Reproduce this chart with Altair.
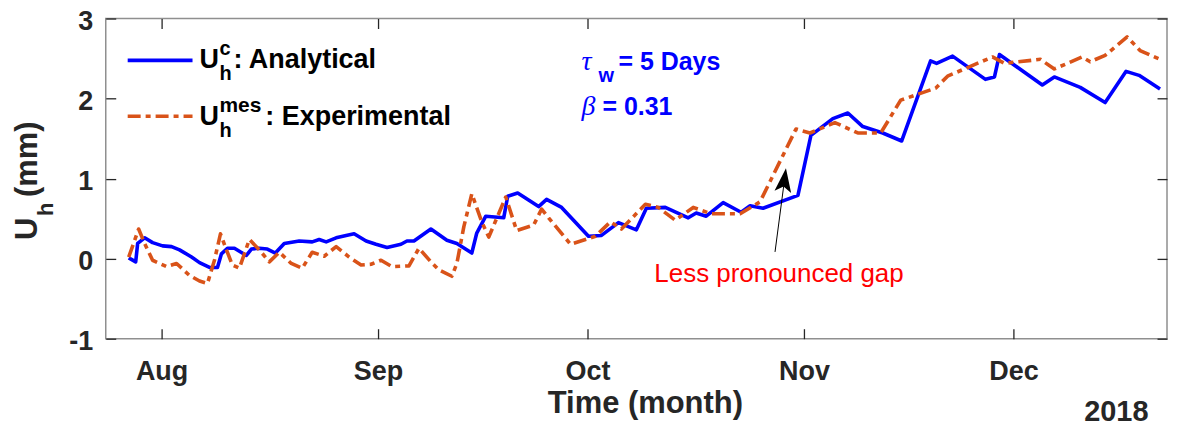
import altair as alt
import pandas as pd

# ---- data (days after 2018-07-24, value in mm) ----
blue_day = [3.29, 4.29, 4.57, 5.57, 6.71, 8.14, 9.43, 10.57, 12.29, 13.43, 14.86, 16.0,
            16.57, 17.43, 18.43, 20.14, 20.86, 22.0, 23.14, 24.29, 25.57, 27.71, 29.57,
            30.57, 31.57, 33.0, 34.43, 35.57, 37.29, 38.71, 40.29, 42.29, 43.14, 44.14,
            46.57, 48.86, 50.29, 52.43, 53.14, 54.43, 57.0, 57.57, 59.0, 62.0, 63.14,
            65.29, 69.14, 71.0, 73.43, 76.0, 77.43, 80.14, 83.43, 84.57, 86.0, 88.43,
            91.0, 92.29, 94.14, 99.14, 101.0, 104.14, 106.29, 108.43, 111.29, 114.0,
            118.14, 119.0, 121.29, 126.0, 127.29, 128.0, 134.14, 135.86, 139.57, 143.14,
            146.14, 148.0, 151.0]
blue_val = [0.01, -0.04, 0.19, 0.26, 0.20, 0.16, 0.15, 0.11, 0.02, -0.05, -0.11, -0.11,
            0.06, 0.13, 0.13, 0.04, 0.12, 0.13, 0.12, 0.07, 0.19, 0.22, 0.21,
            0.24, 0.21, 0.26, 0.29, 0.31, 0.22, 0.18, 0.14, 0.18, 0.22, 0.22,
            0.37, 0.23, 0.19, 0.07, 0.32, 0.53, 0.51, 0.78, 0.82, 0.65, 0.74,
            0.64, 0.28, 0.29, 0.45, 0.36, 0.63, 0.64, 0.51, 0.57, 0.53, 0.70,
            0.58, 0.66, 0.63, 0.79, 1.54, 1.75, 1.82, 1.65, 1.57, 1.47,
            2.47, 2.44, 2.53, 2.24, 2.27, 2.55, 2.17, 2.27, 2.14, 1.95,
            2.34, 2.29, 2.12]

orange_day = [3.29, 4.71, 5.57, 6.71, 8.71, 10.14, 12.0, 13.43, 14.57, 15.57, 16.43, 17.29,
              18.14, 19.14, 20.57, 22.0, 23.43, 24.86, 26.57, 28.14, 29.57, 31.29, 33.0,
              34.86, 36.57, 38.0, 39.43, 41.0, 43.43, 44.86, 46.57, 47.71, 49.57, 50.29,
              51.29, 52.43, 53.86, 54.86, 57.29, 58.86, 61.29, 62.43, 63.43, 66.57, 70.14,
              72.29, 73.86, 77.29, 79.14, 81.57, 84.14, 86.71, 90.86, 93.71, 98.86, 100.86,
              104.43, 107.71, 111.0, 113.86, 118.86, 120.57, 127.0, 128.71, 133.86, 135.86,
              139.86, 141.0, 143.14, 146.29, 148.14, 151.0]
orange_val = [0.02, 0.37, 0.19, -0.02, -0.10, -0.06, -0.21, -0.28, -0.31, -0.02, 0.31, 0.11,
              -0.08, -0.12, 0.24, 0.11, -0.04, 0.08, -0.06, -0.12, 0.08, 0.03, 0.15,
              0.02, -0.08, -0.07, -0.02, -0.10, -0.09, 0.13, -0.04, -0.14, -0.22, -0.06,
              0.40, 0.81, 0.46, 0.27, 0.77, 0.35, 0.42, 0.62, 0.51, 0.18, 0.28,
              0.46, 0.37, 0.68, 0.64, 0.48, 0.64, 0.56, 0.56, 0.71, 1.62, 1.57,
              1.70, 1.57, 1.57, 1.98, 2.13, 2.28, 2.52, 2.44, 2.49, 2.37,
              2.52, 2.46, 2.54, 2.77, 2.60, 2.49]

y_ticks = [-1, 0, 1, 2, 3]
month_ticks = [8, 9, 10, 11, 12]

START = pd.Timestamp("2018-07-24")
blue_df = pd.DataFrame({"date": START + pd.to_timedelta(blue_day, unit="D"), "val": blue_val})
orange_df = pd.DataFrame({"date": START + pd.to_timedelta(orange_day, unit="D"), "val": orange_val})

BLUE = "#0000FF"
ORANGE = "#D95319"
AX = "#262626"
SANS = "Liberation Sans"
SERIF = "Liberation Serif"
DASH = [13, 5, 5, 5]
LW = 3.6

W, H = 1064, 321

x_scale = alt.Scale(domain=[alt.DateTime(year=2018, month=7, date=24),
                            alt.DateTime(year=2018, month=12, date=23)])
y_scale = alt.Scale(domain=[-1, 3], nice=False)
x_vals = [alt.DateTime(year=2018, month=m, date=1) for m in month_ticks]

common_axis = dict(domain=False, grid=False, tickColor=AX, tickWidth=1.3, tickSize=10,
                   offset=-10, title=None)

x_bottom = alt.Axis(values=x_vals, format="%b", labelFont=SANS, labelFontWeight="bold",
                    labelFontSize=27, labelColor=AX, labelPadding=20, **common_axis)
x_top = alt.Axis(values=x_vals, orient="top", labels=False, **common_axis)
y_left = alt.Axis(values=y_ticks, labelFont=SANS, labelFontWeight="bold", labelFontSize=27,
                  labelColor=AX, labelPadding=13, labelOffset=3, labelExpr="'' + datum.value",
                  **common_axis)
y_right = alt.Axis(values=y_ticks, orient="right", labels=False, **common_axis)

blue_line = alt.Chart(blue_df).mark_line(color=BLUE, strokeWidth=LW, strokeJoin="round").encode(
    x=alt.X("date:T", scale=x_scale, axis=x_bottom),
    y=alt.Y("val:Q", scale=y_scale, axis=y_left),
)
orange_line = alt.Chart(orange_df).mark_line(
    color=ORANGE, strokeWidth=LW, strokeDash=DASH, strokeJoin="round"
).encode(
    x=alt.X("date:T", scale=x_scale, axis=x_top),
    y=alt.Y("val:Q", scale=y_scale, axis=y_right),
)

one = pd.DataFrame({"k": [0]})
layers = [blue_line, orange_line]

# legend samples
layers.append(alt.Chart(one).mark_rule(color=BLUE, strokeWidth=LW).encode(
    x=alt.value(22), x2=alt.value(87), y=alt.value(42)))
layers.append(alt.Chart(one).mark_rule(color=ORANGE, strokeWidth=LW, strokeDash=DASH).encode(
    x=alt.value(22), x2=alt.value(87), y=alt.value(98)))

# arrow of the annotation
layers.append(alt.Chart(one).mark_rule(color="black", strokeWidth=1).encode(
    x=alt.value(671), y=alt.value(234), x2=alt.value(681), y2=alt.value(158)))
layers.append(alt.Chart(one).mark_point(
    shape="M0,-1L0.7,1L0,0.55L-0.7,1Z", filled=True, size=576, angle=7.5,
    color="black", opacity=1, strokeWidth=0).encode(x=alt.value(680.4), y=alt.value(161.9)))

# text pieces: text, x, y, size, weight, style, color, font, angle, align
texts = [
    ("U", 94, 50, 27, "bold", "normal", "black", SANS, 0, "left"),
    ("c", 114, 37, 20, "bold", "normal", "black", SANS, 0, "left"),
    ("h", 114, 62, 20, "bold", "normal", "black", SANS, 0, "left"),
    (": Analytical", 128, 50, 27, "bold", "normal", "black", SANS, 0, "left"),
    ("U", 94, 107, 27, "bold", "normal", "black", SANS, 0, "left"),
    ("mes", 114, 94, 21, "bold", "normal", "black", SANS, 0, "left"),
    ("h", 114, 119, 20, "bold", "normal", "black", SANS, 0, "left"),
    (": Experimental", 160, 107, 27, "bold", "normal", "black", SANS, 0, "left"),
    ("\u03c4", 477, 52, 28, "normal", "italic", BLUE, SERIF, 0, "left"),
    ("w", 494, 64, 20, "bold", "normal", BLUE, SANS, 0, "left"),
    ("= 5 Days", 514, 52, 25, "bold", "normal", BLUE, SANS, 0, "left"),
    ("\u03b2", 477, 97, 28, "normal", "italic", BLUE, SERIF, 0, "left"),
    ("= 0.31", 498, 97, 25, "bold", "normal", BLUE, SANS, 0, "left"),
    ("Less pronounced gap", 675, 264, 26, "normal", "normal", "#FF0000", SANS, 0, "center"),
    ("U", -69, 222, 31, "bold", "normal", AX, SANS, 270, "left"),
    ("h", -53, 198, 22, "bold", "normal", AX, SANS, 270, "left"),
    ("(mm)", -69, 179, 31, "bold", "normal", AX, SANS, 270, "left"),
    ("Time (month)", 541, 396, 31, "bold", "normal", AX, SANS, 0, "center"),
    ("2018", 981, 404, 29, "bold", "normal", AX, SANS, 0, "left"),
]
for t, tx, ty, fs, fw, fst, col, font, ang, al in texts:
    layers.append(alt.Chart(one).mark_text(
        text=t, fontSize=fs, fontWeight=fw, fontStyle=fst, color=col, font=font,
        angle=ang, align=al, baseline="alphabetic").encode(x=alt.value(tx), y=alt.value(ty)))

chart = alt.layer(*layers).resolve_axis(x="independent", y="independent").properties(
    width=W, height=H,
    padding={"left": 98, "top": 10, "right": 2, "bottom": 88},
    autosize=alt.AutoSizeParams(type="none"),
    background="white",
).configure_view(stroke="#8f8f8f", strokeWidth=1.5)

chart.save("out.html", embed_options={"renderer": "svg", "actions": False})
